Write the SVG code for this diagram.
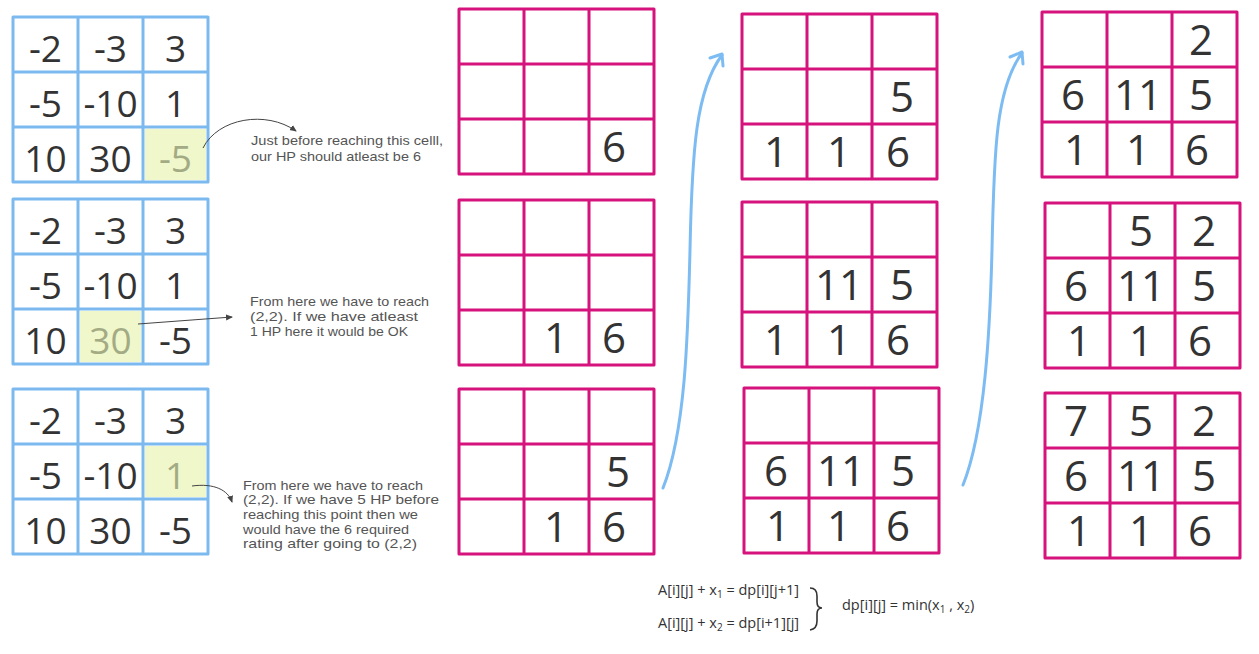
<svg xmlns="http://www.w3.org/2000/svg" width="1259" height="654" viewBox="0 0 1259 654">
<style>
.bg{fill:#ffffff}
.bl{fill:none;stroke:#7cb9ef;stroke-width:3;stroke-linejoin:round}
.pk{fill:none;stroke:#d6137c;stroke-width:3;stroke-linejoin:round}
.hl{fill:#f0f7cb}
.nb{font-family:"Open Sans","Noto Sans",sans-serif;font-size:37px;fill:#333333;text-anchor:middle}
.np{font-family:"Open Sans","Noto Sans",sans-serif;font-size:42px;fill:#333333;text-anchor:middle}
.nh{fill:#a3ab84}
.note{font-family:"Liberation Sans",Arial,sans-serif;font-size:13px;fill:#555555}
.fx{font-family:"Open Sans","Noto Sans",sans-serif;font-size:14.5px;fill:#333333}
.ann{fill:none;stroke:#444444;stroke-width:1}
.flow{fill:none;stroke:#7dbcf2;stroke-width:3;stroke-linecap:round;stroke-linejoin:round}
</style>
<defs>
<marker id="ah" markerWidth="8" markerHeight="8" refX="6" refY="4" orient="auto" markerUnits="userSpaceOnUse">
<path d="M0,1 L7,4 L0,7 Z" fill="#444444"/>
</marker>
<g id="bgrid"><rect x="0" y="0" width="195" height="165" class="bl"/><path class="bl" d="M65,0V165M130,0V165M0,55H195M0,110H195"/></g>
<g id="pgrid"><rect x="0" y="0" width="195" height="165" class="pk"/><path class="pk" d="M65,0V165M130,0V165M0,55H195M0,110H195"/></g>
</defs>
<rect class="bg" x="0" y="0" width="1259" height="654"/>

<g id="blue1" transform="translate(13,17)">
<rect class="hl" x="132" y="112" width="61" height="51"/>
<use href="#bgrid"/>
<text class="nb" x="32.5" y="45">-2</text><text class="nb" x="97.5" y="45">-3</text><text class="nb" x="162.5" y="45">3</text>
<text class="nb" x="32.5" y="100">-5</text><text class="nb" x="97.5" y="100">-10</text><text class="nb" x="162.5" y="100">1</text>
<text class="nb" x="32.5" y="155">10</text><text class="nb" x="97.5" y="155">30</text><text class="nb nh" x="162.5" y="155">-5</text>
</g>
<g id="blue2" transform="translate(13,199)">
<rect class="hl" x="67" y="112" width="61" height="51"/>
<use href="#bgrid"/>
<text class="nb" x="32.5" y="45">-2</text><text class="nb" x="97.5" y="45">-3</text><text class="nb" x="162.5" y="45">3</text>
<text class="nb" x="32.5" y="100">-5</text><text class="nb" x="97.5" y="100">-10</text><text class="nb" x="162.5" y="100">1</text>
<text class="nb" x="32.5" y="155">10</text><text class="nb nh" x="97.5" y="155">30</text><text class="nb" x="162.5" y="155">-5</text>
</g>
<g id="blue3" transform="translate(13,389)">
<rect class="hl" x="132" y="57" width="61" height="51"/>
<use href="#bgrid"/>
<text class="nb" x="32.5" y="45">-2</text><text class="nb" x="97.5" y="45">-3</text><text class="nb" x="162.5" y="45">3</text>
<text class="nb" x="32.5" y="100">-5</text><text class="nb" x="97.5" y="100">-10</text><text class="nb nh" x="162.5" y="100">1</text>
<text class="nb" x="32.5" y="155">10</text><text class="nb" x="97.5" y="155">30</text><text class="nb" x="162.5" y="155">-5</text>
</g>

<g id="note1">
<text class="note" x="251" y="145" textLength="192" lengthAdjust="spacingAndGlyphs">Just before reaching this celll,</text>
<text class="note" x="251" y="161" textLength="170" lengthAdjust="spacingAndGlyphs">our HP should atleast be 6</text>
</g>
<g id="note2">
<text class="note" x="250" y="306" textLength="179" lengthAdjust="spacingAndGlyphs">From here we have to reach</text>
<text class="note" x="250" y="321" textLength="168" lengthAdjust="spacingAndGlyphs">(2,2). If we have atleast</text>
<text class="note" x="250" y="336" textLength="158" lengthAdjust="spacingAndGlyphs">1 HP here it would be OK</text>
</g>
<g id="note3">
<text class="note" x="243" y="490" textLength="180" lengthAdjust="spacingAndGlyphs">From here we have to reach</text>
<text class="note" x="243" y="504" textLength="196" lengthAdjust="spacingAndGlyphs">(2,2). If we have 5 HP before</text>
<text class="note" x="243" y="519" textLength="175" lengthAdjust="spacingAndGlyphs">reaching this point then we</text>
<text class="note" x="243" y="534" textLength="166" lengthAdjust="spacingAndGlyphs">would have the 6 required</text>
<text class="note" x="243" y="548" textLength="174" lengthAdjust="spacingAndGlyphs">rating after going to (2,2)</text>
</g>

<g id="p11" transform="translate(459,9)"><use href="#pgrid"/>
<text class="np" x="155" y="153">6</text>
</g>
<g id="p21" transform="translate(459,200)"><use href="#pgrid"/>
<text class="np" x="97" y="153">1</text><text class="np" x="155" y="153">6</text>
</g>
<g id="p31" transform="translate(459,389)"><use href="#pgrid"/>
<text class="np" x="159" y="98">5</text>
<text class="np" x="97" y="153">1</text><text class="np" x="155" y="153">6</text>
</g>
<g id="p12" transform="translate(742,14)"><use href="#pgrid"/>
<text class="np" x="160" y="98">5</text>
<text class="np" x="34" y="153">1</text><text class="np" x="97" y="153">1</text><text class="np" x="156" y="153">6</text>
</g>
<g id="p22" transform="translate(742,202)"><use href="#pgrid"/>
<text class="np" x="97" y="98">11</text><text class="np" x="160" y="98">5</text>
<text class="np" x="34" y="153">1</text><text class="np" x="97" y="153">1</text><text class="np" x="156" y="153">6</text>
</g>
<g id="p32" transform="translate(744,388)"><use href="#pgrid"/>
<text class="np" x="32" y="98">6</text><text class="np" x="97" y="98">11</text><text class="np" x="159" y="98">5</text>
<text class="np" x="34" y="153">1</text><text class="np" x="95" y="153">1</text><text class="np" x="154" y="153">6</text>
</g>
<g id="p13" transform="translate(1042,12)"><use href="#pgrid"/>
<text class="np" x="159" y="43">2</text>
<text class="np" x="31" y="98">6</text><text class="np" x="96" y="98">11</text><text class="np" x="159" y="98">5</text>
<text class="np" x="34" y="153">1</text><text class="np" x="96" y="153">1</text><text class="np" x="155" y="153">6</text>
</g>
<g id="p23" transform="translate(1045,203)"><use href="#pgrid"/>
<text class="np" x="96" y="43">5</text><text class="np" x="159" y="43">2</text>
<text class="np" x="31" y="98">6</text><text class="np" x="96" y="98">11</text><text class="np" x="159" y="98">5</text>
<text class="np" x="34" y="153">1</text><text class="np" x="96" y="153">1</text><text class="np" x="155" y="153">6</text>
</g>
<g id="p33" transform="translate(1045,393)"><use href="#pgrid"/>
<text class="np" x="31" y="43">7</text><text class="np" x="96" y="43">5</text><text class="np" x="159" y="43">2</text>
<text class="np" x="31" y="98">6</text><text class="np" x="96" y="98">11</text><text class="np" x="159" y="98">5</text>
<text class="np" x="34" y="153">1</text><text class="np" x="96" y="153">1</text><text class="np" x="155" y="153">6</text>
</g>

<g id="connectors">
<path class="ann" d="M203,148 C218,118 266,110 296,131" marker-end="url(#ah)"/>
<path class="ann" d="M138,324 L232,317" marker-end="url(#ah)"/>
<path class="ann" d="M192,486 C214,483 228,490 232,502" marker-end="url(#ah)"/>
<path class="flow" d="M663,488 C686,430 688,330 690,250 C692,150 696,90 722,55"/>
<path class="flow" d="M710,58 L722,54 L723,66"/>
<path class="flow" d="M963,485 C985,430 990,330 992,250 C994,150 996,88 1022,53"/>
<path class="flow" d="M1010,57 L1022,52 L1023,64"/>
</g>

<g id="formula">
<text class="fx" x="658" y="595">A[i][j] + x<tspan font-size="10" dy="3">1</tspan><tspan dy="-3"> = dp[i][j+1]</tspan></text>
<text class="fx" x="658" y="628">A[i][j] + x<tspan font-size="10" dy="3">2</tspan><tspan dy="-3"> = dp[i+1][j]</tspan></text>
<path d="M810,588 Q817,588 817,596 L817,602 Q817,608 822,608 Q817,608 817,614 L817,621 Q817,629 810,630" fill="none" stroke="#333333" stroke-width="1.6"/>
<text class="fx" x="842" y="610">dp[i][j] = min(x<tspan font-size="10" dy="3">1</tspan><tspan dy="-3"> , x</tspan><tspan font-size="10" dy="3">2</tspan><tspan dy="-3">)</tspan></text>
</g>
</svg>
